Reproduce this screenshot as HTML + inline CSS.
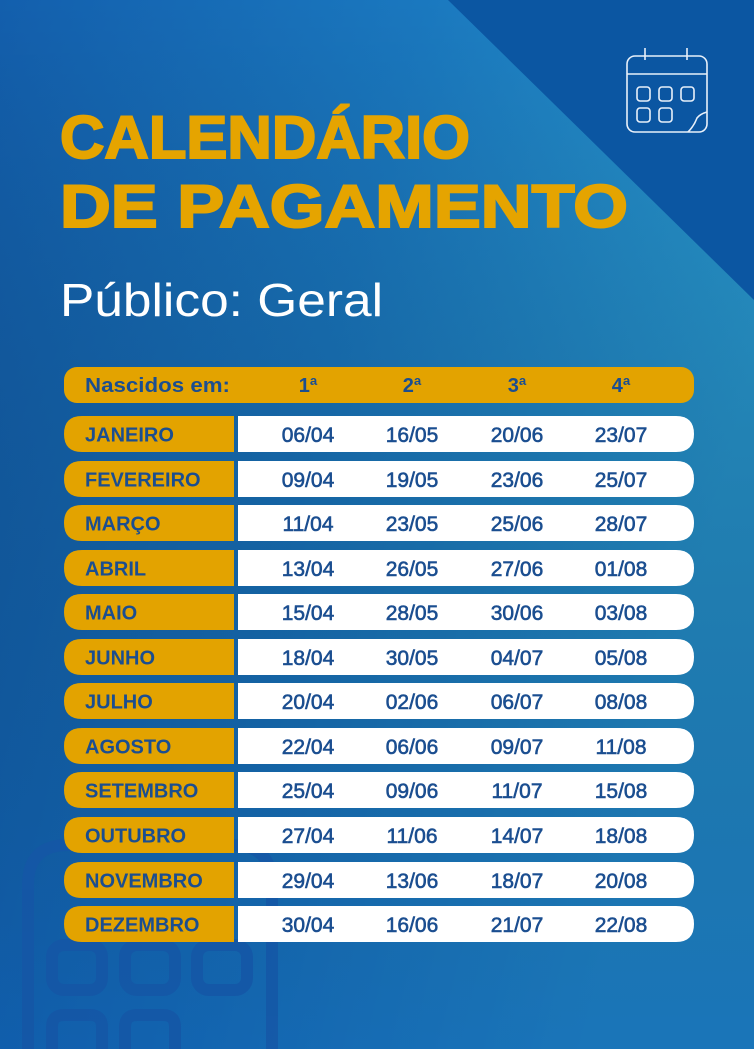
<!DOCTYPE html>
<html><head><meta charset="utf-8"><style>
html,body{margin:0;padding:0;width:754px;height:1049px;overflow:hidden}
svg{display:block}
text{font-family:"Liberation Sans",sans-serif}
.l{font-size:20px;font-weight:bold;fill:#1b4e90}
.d{font-size:21px;fill:#1b4e90;stroke:#1b4e90;stroke-width:0.6;text-anchor:middle}
</style></head><body>
<svg width="754" height="1049" viewBox="0 0 754 1049" xmlns="http://www.w3.org/2000/svg">
<defs>
<linearGradient id="bg" x1="0" y1="0" x2="1" y2="0.35">
<stop offset="0" stop-color="#135fad"/>
<stop offset="0.5" stop-color="#1a78bf"/>
<stop offset="1" stop-color="#2a9cd2"/>
</linearGradient>
<linearGradient id="bg2" x1="0" y1="0" x2="0" y2="1">
<stop offset="0" stop-color="#000" stop-opacity="0"/>
<stop offset="1" stop-color="#0a4ea0" stop-opacity="0.5"/>
</linearGradient>
<g id="rb">
<path d="M82 0 H234 V36 H82 Q64 36 64 18 Q64 0 82 0 Z" fill="#e3a300"/>
<path d="M238 0 H676 Q694 0 694 18 Q694 36 676 36 H238 Z" fill="#ffffff"/>
</g>
</defs>
<rect width="754" height="1049" fill="url(#bg)"/>
<rect width="754" height="1049" fill="url(#bg2)"/>
<polygon points="448,0 754,0 754,300" fill="#0b56a2"/>
<g fill="none" stroke="#1556a6" stroke-width="12" opacity="0.8">
<path d="M28 1049 V885 Q28 845 68 845 H232 Q272 845 272 885 V1049"/>
<rect x="52" y="945" width="50" height="45" rx="12"/>
<rect x="125" y="945" width="50" height="45" rx="12"/>
<rect x="197" y="945" width="50" height="45" rx="12"/>
<path d="M52 1049 V1027 Q52 1015 64 1015 H90 Q102 1015 102 1027 V1049"/>
<path d="M125 1049 V1027 Q125 1015 137 1015 H163 Q175 1015 175 1027 V1049"/>
</g>
<g fill="none" stroke="#e8f0fa" stroke-width="1.6">
<rect x="627" y="56" width="80" height="76" rx="8"/>
<line x1="627" y1="74" x2="707" y2="74"/>
<line x1="645" y1="48" x2="645" y2="60"/>
<line x1="687" y1="48" x2="687" y2="60"/>
<rect x="637" y="87" width="13" height="14" rx="3"/>
<rect x="659" y="87" width="13" height="14" rx="3"/>
<rect x="681" y="87" width="13" height="14" rx="3"/>
<rect x="637" y="108" width="13" height="14" rx="3"/>
<rect x="659" y="108" width="13" height="14" rx="3"/>
<path d="M707 112 Q700 114 697 118 Q694 126 688 132"/>
</g>
<text x="60" y="158" font-size="60" font-weight="900" fill="#e5a400" textLength="410" lengthAdjust="spacingAndGlyphs" stroke="#e5a400" stroke-width="2">CALENDÁRIO</text>
<text x="60" y="227" font-size="60" font-weight="900" fill="#e5a400" textLength="568" lengthAdjust="spacingAndGlyphs" stroke="#e5a400" stroke-width="2">DE PAGAMENTO</text>
<text x="60" y="316" font-size="46" fill="#ffffff" textLength="323" lengthAdjust="spacingAndGlyphs">Público: Geral</text>
<rect x="64" y="367" width="630" height="36" rx="13" fill="#e3a300"/>
<g font-size="20" font-weight="bold" fill="#1b4e90">
<text x="85" y="392" textLength="145" lengthAdjust="spacingAndGlyphs">Nascidos em:</text>
<text x="308" y="392" text-anchor="middle">1ª</text>
<text x="412" y="392" text-anchor="middle">2ª</text>
<text x="517" y="392" text-anchor="middle">3ª</text>
<text x="621" y="392" text-anchor="middle">4ª</text>
</g>

<g transform="translate(0,416)"><use href="#rb"/><text class="l" x="85" y="25.5">JANEIRO</text><text class="d" x="308" y="26">06/04</text><text class="d" x="412" y="26">16/05</text><text class="d" x="517" y="26">20/06</text><text class="d" x="621" y="26">23/07</text></g>
<g transform="translate(0,461)"><use href="#rb"/><text class="l" x="85" y="25.5">FEVEREIRO</text><text class="d" x="308" y="26">09/04</text><text class="d" x="412" y="26">19/05</text><text class="d" x="517" y="26">23/06</text><text class="d" x="621" y="26">25/07</text></g>
<g transform="translate(0,505)"><use href="#rb"/><text class="l" x="85" y="25.5">MARÇO</text><text class="d" x="308" y="26">11/04</text><text class="d" x="412" y="26">23/05</text><text class="d" x="517" y="26">25/06</text><text class="d" x="621" y="26">28/07</text></g>
<g transform="translate(0,550)"><use href="#rb"/><text class="l" x="85" y="25.5">ABRIL</text><text class="d" x="308" y="26">13/04</text><text class="d" x="412" y="26">26/05</text><text class="d" x="517" y="26">27/06</text><text class="d" x="621" y="26">01/08</text></g>
<g transform="translate(0,594)"><use href="#rb"/><text class="l" x="85" y="25.5">MAIO</text><text class="d" x="308" y="26">15/04</text><text class="d" x="412" y="26">28/05</text><text class="d" x="517" y="26">30/06</text><text class="d" x="621" y="26">03/08</text></g>
<g transform="translate(0,639)"><use href="#rb"/><text class="l" x="85" y="25.5">JUNHO</text><text class="d" x="308" y="26">18/04</text><text class="d" x="412" y="26">30/05</text><text class="d" x="517" y="26">04/07</text><text class="d" x="621" y="26">05/08</text></g>
<g transform="translate(0,683)"><use href="#rb"/><text class="l" x="85" y="25.5">JULHO</text><text class="d" x="308" y="26">20/04</text><text class="d" x="412" y="26">02/06</text><text class="d" x="517" y="26">06/07</text><text class="d" x="621" y="26">08/08</text></g>
<g transform="translate(0,728)"><use href="#rb"/><text class="l" x="85" y="25.5">AGOSTO</text><text class="d" x="308" y="26">22/04</text><text class="d" x="412" y="26">06/06</text><text class="d" x="517" y="26">09/07</text><text class="d" x="621" y="26">11/08</text></g>
<g transform="translate(0,772)"><use href="#rb"/><text class="l" x="85" y="25.5">SETEMBRO</text><text class="d" x="308" y="26">25/04</text><text class="d" x="412" y="26">09/06</text><text class="d" x="517" y="26">11/07</text><text class="d" x="621" y="26">15/08</text></g>
<g transform="translate(0,817)"><use href="#rb"/><text class="l" x="85" y="25.5">OUTUBRO</text><text class="d" x="308" y="26">27/04</text><text class="d" x="412" y="26">11/06</text><text class="d" x="517" y="26">14/07</text><text class="d" x="621" y="26">18/08</text></g>
<g transform="translate(0,862)"><use href="#rb"/><text class="l" x="85" y="25.5">NOVEMBRO</text><text class="d" x="308" y="26">29/04</text><text class="d" x="412" y="26">13/06</text><text class="d" x="517" y="26">18/07</text><text class="d" x="621" y="26">20/08</text></g>
<g transform="translate(0,906)"><use href="#rb"/><text class="l" x="85" y="25.5">DEZEMBRO</text><text class="d" x="308" y="26">30/04</text><text class="d" x="412" y="26">16/06</text><text class="d" x="517" y="26">21/07</text><text class="d" x="621" y="26">22/08</text></g>
</svg>
</body></html>
